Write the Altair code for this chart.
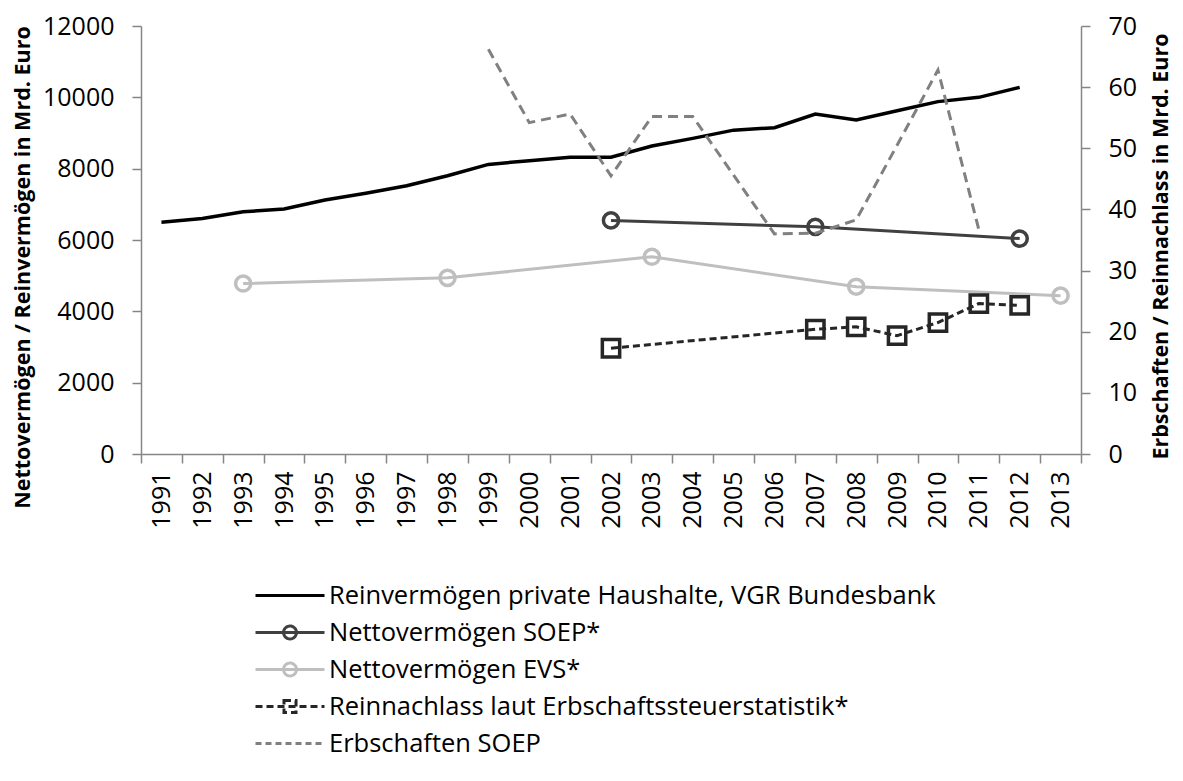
import altair as alt
import pandas as pd

# ---------------- data ----------------
years = [str(y) for y in range(1991, 2014)]

vgr_years = [str(y) for y in range(1991, 2013)]
vgr_values = [6500, 6600, 6790, 6870, 7120, 7310, 7520, 7800, 8120, 8225, 8320,
              8320, 8635, 8850, 9080, 9150, 9530, 9365, 9625, 9880, 10000, 10280]

soep_years = ["2002", "2007", "2012"]
soep_values = [6550, 6370, 6040]

evs_years = ["1993", "1998", "2003", "2008", "2013"]
evs_values = [4780, 4940, 5530, 4690, 4440]

rein_years = ["2002", "2007", "2008", "2009", "2010", "2011", "2012"]
rein_values = [17.3, 20.4, 20.8, 19.35, 21.5, 24.6, 24.3]

erb_years = [str(y) for y in range(1999, 2012)]
erb_values = [66.2, 54.2, 55.6, 45.5, 55.2, 55.2, 45.6, 36.0, 36.1, 38.3, 50.5, 62.8, 36.7]

series_names = [
    "Reinvermögen private Haushalte, VGR Bundesbank",
    "Nettovermögen SOEP*",
    "Nettovermögen EVS*",
    "Reinnachlass laut Erbschaftssteuerstatistik*",
    "Erbschaften SOEP",
]
series_colors = ["#000000", "#404040", "#bfbfbf", "#262626", "#808080"]
series_dashes = [[1, 0], [1, 0], [1, 0], [7, 4], [6, 4]]
legend_shapes = [
    "M-1,0H3.6",
    "M-1,0H3.6M1.73,0A0.43,0.43 0 1,1 0.87,0A0.43,0.43 0 1,1 1.73,0",
    "M-1,0H3.6M1.73,0A0.43,0.43 0 1,1 0.87,0A0.43,0.43 0 1,1 1.73,0",
    "M-1,0H3.6M0.9,-0.4H1.7V0.4H0.9Z",
    "M-1,0H3.6",
]

left_title = "Nettovermögen / Reinvermögen in Mrd. Euro"
right_title = "Erbschaften / Reinnachlass in Mrd. Euro"

FONT = "Open Sans"
AXIS_GRAY = "#868686"


def frame(xs, vs):
    return pd.DataFrame({"year": xs, "value": vs})


xenc = alt.X(
    "year:O",
    scale=alt.Scale(type="band", domain=years, paddingInner=0, paddingOuter=0),
    bandPosition=0.5,
    axis=alt.Axis(
        title=None, labelAngle=-90, tickBand="extent", tickSize=9,
        labelPadding=8, labelFontSize=25, labelFont=FONT, labelColor="#000000",
        domainColor=AXIS_GRAY, tickColor=AXIS_GRAY, domainWidth=1.5, tickWidth=1.5,
    ),
)

yleft = alt.Y(
    "value:Q",
    scale=alt.Scale(domain=[0, 12000]),
    axis=alt.Axis(
        title=left_title, values=list(range(0, 12001, 2000)), format="d", grid=False,
        tickSize=9, labelPadding=18, labelFontSize=25, labelFont=FONT,
        labelColor="#000000", titleFont=FONT, titleFontSize=21.5,
        titleFontWeight="bold", titleColor="#000000", titlePadding=8, titleY=241,
        domainColor=AXIS_GRAY, tickColor=AXIS_GRAY, domainWidth=1.5, tickWidth=1.5,
    ),
)

yright = alt.Y(
    "value:Q",
    scale=alt.Scale(domain=[0, 70]),
    axis=alt.Axis(
        title=right_title, orient="right", values=list(range(0, 71, 10)), format="d",
        grid=False, tickSize=9, labelPadding=18, labelFontSize=25,
        labelFont=FONT, labelColor="#000000", titleFont=FONT, titleFontSize=21.5,
        titleFontWeight="bold", titleColor="#000000",
        titleAngle=270, titleX=86, titleY=220, titleAlign="center",
        titleBaseline="alphabetic",
        domainColor=AXIS_GRAY, tickColor=AXIS_GRAY, domainWidth=1.5, tickWidth=1.5,
    ),
)

vgr_line = alt.Chart(frame(vgr_years, vgr_values)).mark_line(
    color="#000000", strokeWidth=3.5).encode(x=xenc, y=yleft)

soep_df = frame(soep_years, soep_values)
soep_line = alt.Chart(soep_df).mark_line(color="#404040", strokeWidth=3).encode(x=xenc, y=yleft)
soep_pts = alt.Chart(soep_df).mark_point(
    shape="circle", filled=False, color="#404040", strokeWidth=3.5, size=230, opacity=1
).encode(x=xenc, y=yleft)

evs_df = frame(evs_years, evs_values)
evs_line = alt.Chart(evs_df).mark_line(color="#bfbfbf", strokeWidth=3).encode(x=xenc, y=yleft)
evs_pts = alt.Chart(evs_df).mark_point(
    shape="circle", filled=False, color="#bfbfbf", strokeWidth=3.5, size=230, opacity=1
).encode(x=xenc, y=yleft)

# legend carrier (clipped outside the plot)
legend_df = pd.DataFrame({"year": ["1991"] * 5, "value": [-5000] * 5, "series": series_names})
legend_layer = alt.Chart(legend_df).mark_point(
    filled=False, clip=True, strokeWidth=3, size=900, opacity=1
).encode(
    x=xenc, y=yleft,
    color=alt.Color("series:N", scale=alt.Scale(domain=series_names, range=series_colors),
                    legend=alt.Legend(title=None)),
    shape=alt.Shape("series:N", scale=alt.Scale(domain=series_names, range=legend_shapes),
                    legend=alt.Legend(title=None)),
    strokeDash=alt.StrokeDash("series:N", scale=alt.Scale(domain=series_names, range=series_dashes),
                              legend=alt.Legend(title=None)),
)

left = alt.layer(vgr_line, soep_line, soep_pts, evs_line, evs_pts, legend_layer)

rein_df = frame(rein_years, rein_values)
rein_line = alt.Chart(rein_df).mark_line(
    color="#262626", strokeWidth=3, strokeDash=[7, 4]).encode(x=xenc, y=yright)
rein_pts = alt.Chart(rein_df).mark_point(
    shape="square", filled=False, color="#262626", strokeWidth=3.5, size=300, opacity=1
).encode(x=xenc, y=yright)

erb_line = alt.Chart(frame(erb_years, erb_values)).mark_line(
    color="#808080", strokeWidth=3, strokeDash=[10, 6]).encode(x=xenc, y=yright)

right = alt.layer(rein_line, rein_pts, erb_line)

chart = alt.layer(left, right).resolve_scale(y="independent").properties(
    width=940, height=428,
    autosize=alt.AutoSizeParams(type="none"),
    padding={"left": 133, "top": 18, "right": 94, "bottom": 305},
).configure_view(stroke=None).configure_legend(
    orient="none", legendX=113, legendY=553, direction="vertical",
    labelFont=FONT, labelFontSize=25.5, labelColor="#000000",
    symbolSize=900, symbolStrokeWidth=3, labelOffset=42, rowPadding=7,
    labelLimit=800, symbolFillColor="transparent",
)

chart.save("out.html", embed_options={"renderer": "svg", "actions": False})
